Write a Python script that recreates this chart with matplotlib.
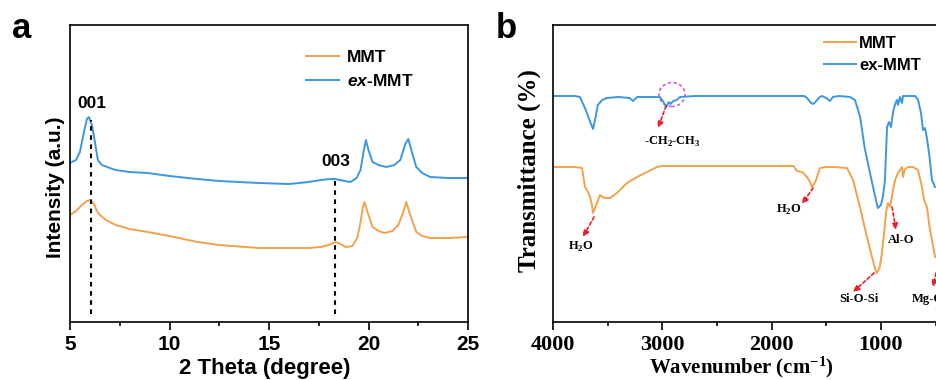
import matplotlib
matplotlib.use('Agg')
import matplotlib.pyplot as plt
from matplotlib.patches import Ellipse
from matplotlib.ticker import MultipleLocator

plt.rcParams['mathtext.fontset'] = 'custom'
plt.rcParams['mathtext.it'] = 'Liberation Sans:italic:bold'
plt.rcParams['mathtext.rm'] = 'Liberation Serif:bold'
plt.rcParams['mathtext.bf'] = 'Liberation Serif:bold'

ORANGE = '#F2A24C'
BLUE = '#3C97E2'
SANS = 'Liberation Sans'
SERIF = 'Liberation Serif'

# --- XRD patterns (2 theta in degree, intensity in a.u.) ---
xrd_theta_ex = [5.0, 5.3, 5.5, 5.7, 5.85, 5.95, 6.1, 6.25, 6.4, 6.6, 7.0, 7.3, 8.0, 8.9,
                10.0, 11.4, 12.5, 14.5, 16.0, 17.0, 17.6, 18.1, 18.3, 18.8, 19.1, 19.4,
                19.6, 19.75, 19.87, 20.0, 20.2, 20.5, 20.9, 21.3, 21.6, 21.85, 22.0,
                22.15, 22.4, 22.7, 23.1, 24.0, 25.0]
xrd_int_ex = [159, 162, 170, 190, 203, 205, 197, 180, 162, 157, 154, 152, 150, 149,
              146, 143, 141, 139, 138, 140, 142, 143, 143, 141, 140, 144,
              152, 170, 182, 172, 160, 157, 155, 157, 162, 178, 183,
              172, 155, 149, 145, 144, 144]

xrd_theta_mmt = [5.0, 5.3, 5.6, 5.85, 6.0, 6.2, 6.4, 6.8, 7.3, 8.0, 8.9, 10.0, 11.4,
                 12.5, 14.5, 16.0, 17.0, 17.6, 18.0, 18.35, 18.6, 18.85, 19.2, 19.45,
                 19.6, 19.72, 19.8, 19.92, 20.2, 20.5, 20.8, 21.2, 21.5, 21.75, 21.9,
                 22.05, 22.4, 22.7, 23.1, 24.0, 25.0]
xrd_int_mmt = [107, 111, 117, 121, 122, 118, 109, 102, 97, 93, 90, 86, 80,
               77, 74, 74, 74, 75, 77, 80, 78, 75, 76, 85,
               100, 115, 120, 112, 95, 91, 89, 91, 97, 110, 120,
               110, 90, 86, 84, 84, 85]

# reflections marked with dashed lines
refl_pos = [6.05, 18.32]
refl_top = [202, 142]
refl_names = ['001', '003']
refl_label_y = [218, 160]

# --- FTIR spectra (wavenumber in cm-1, transmittance in a.u.) ---
ir_wn_ex = [4000, 3800, 3753, 3700, 3660, 3634, 3610, 3590, 3550, 3506, 3400, 3300,
            3268, 3230, 3100, 3021, 2990, 2965, 2940, 2925, 2900, 2870, 2838, 2700,
            1700, 1676, 1640, 1620, 1600, 1560, 1540, 1500, 1466, 1440, 1380, 1283,
            1237, 1190, 1150, 1100, 1060, 1028, 1000, 982, 963, 944, 926, 908, 889,
            870, 853, 844, 826, 807, 798, 750, 688, 660, 633, 615, 597, 579, 555,
            533, 505]
ir_tr_ex = [226, 226, 225, 212, 200, 193, 205, 217, 222, 224, 225, 224,
            221, 225, 225, 225, 220, 215, 220, 218, 221, 222, 225, 226,
            226, 224, 219, 218, 220, 225, 226, 224, 221, 225, 226, 225,
            222, 205, 175, 149, 129, 114, 117, 125, 142, 195, 200, 195, 210,
            218, 222, 217, 225, 219, 226, 226, 226, 222, 209, 192, 194, 184, 165,
            142, 135]

ir_wn_mmt = [4000, 3800, 3735, 3707, 3680, 3662, 3645, 3634, 3615, 3598, 3570, 3545,
             3524, 3479, 3415, 3323, 3231, 3140, 3048, 3000, 1800, 1768, 1720, 1676,
             1650, 1630, 1600, 1570, 1557, 1500, 1438, 1310, 1255, 1192, 1128, 1082,
             1050, 1036, 1010, 991, 970, 954, 936, 917, 900, 889, 870, 844, 807, 798,
             780, 750, 707, 661, 624, 606, 579, 555, 533, 505]
ir_tr_mmt = [155, 155, 154, 135, 130, 125, 118, 109, 114, 119, 127, 125,
             124, 124, 129, 139, 145, 150, 155, 156, 156, 151, 150, 145,
             140, 135, 140, 150, 154, 155, 155, 154, 142, 115, 85, 65,
             52, 49, 55, 69, 90, 109, 119, 115, 125, 132, 142, 149, 155, 145,
             153, 155, 155, 152, 135, 122, 115, 95, 82, 65]

# band assignments: label, text position, arrow tail, arrow head
band_labels = [r'-CH$_2$-CH$_3$', r'H$_2$O', r'H$_2$O', 'Si-O-Si', 'Al-O', 'Mg-O']
band_text_xy = [(2911, 180), (3744, 75), (1841, 112), (1200, 23), (816, 82), (569, 23)]
band_tail_xy = [(2966, 216), (3625, 105), (1621, 134), (1063, 49), (898, 115), (496, 49)]
band_head_xy = [(3039, 194), (3726, 85), (1722, 118), (1255, 30), (862, 92), (523, 35)]

fig = plt.figure(figsize=(9.36, 3.8), dpi=100)

# ---------------- panel a: XRD ----------------
ax1 = fig.add_axes([70 / 936, 58 / 380, 398 / 936, 297 / 380])
ax1.plot(xrd_theta_mmt, xrd_int_mmt, color=ORANGE, lw=1.4, label='MMT')
ax1.plot(xrd_theta_ex, xrd_int_ex, color=BLUE, lw=1.4, label=r'$ex$-MMT')
for xp, top, name, ly in zip(refl_pos, refl_top, refl_names, refl_label_y):
    ax1.plot([xp, xp], [8, top], color='black', lw=1.5, ls=(0, (2.2, 2.2)))
    ax1.text(xp + 0.05, ly, name, ha='center', va='center', fontsize=12.5,
             fontweight='bold', family=SANS)
ax1.set_xlim(5, 25)
ax1.set_ylim(0, 297)
ax1.set_yticks([])
ax1.xaxis.set_major_locator(MultipleLocator(5))
ax1.xaxis.set_minor_locator(MultipleLocator(2.5))
ax1.tick_params(axis='x', which='major', direction='out', length=6, width=1.2,
                labelsize=15)
ax1.tick_params(axis='x', which='minor', direction='out', length=3, width=1.2)
for lbl in ax1.get_xticklabels():
    lbl.set_fontweight('bold')
    lbl.set_family(SANS)
ax1.set_xlabel('2 Theta (degree)', fontsize=16, fontweight='bold', family=SANS)
ax1.set_ylabel('Intensity (a.u.)', fontsize=15, fontweight='bold', family=SANS)
ax1.xaxis.set_label_coords(0.49, -0.122)
ax1.yaxis.set_label_coords(-0.013, 0.455)
leg1 = ax1.legend(frameon=False, loc='upper left', bbox_to_anchor=(0.593, 0.915),
                  borderpad=0, borderaxespad=0, handlelength=1.9, handletextpad=0.45,
                  labelspacing=0.45,
                  prop={'family': SANS, 'weight': 'bold', 'size': 12.5})
for s in ax1.spines.values():
    s.set_linewidth(1.2)
fig.text(12 / 936, 1 - 38 / 380, 'a', fontsize=25, fontweight='bold', family=SANS,
         ha='left', va='baseline')

# ---------------- panel b: FTIR ----------------
ax2 = fig.add_axes([553 / 936, 58 / 380, 393.5 / 936, 297 / 380])
ax2.plot(ir_wn_mmt, ir_tr_mmt, color=ORANGE, lw=1.4, label='MMT')
ax2.plot(ir_wn_ex, ir_tr_ex, color=BLUE, lw=1.4, label='ex-MMT')
ax2.add_patch(Ellipse((2911, 227.5), 238, 24, fill=False, ec='#D45CD6', lw=1.2,
                      ls=(0, (2, 1.5))))
for name, txy, tail, head in zip(band_labels, band_text_xy, band_tail_xy, band_head_xy):
    ax2.text(txy[0], txy[1], name, ha='center', va='center', fontsize=9,
             fontweight='bold', family=SERIF)
    ax2.annotate('', xy=head, xytext=tail,
                 arrowprops=dict(arrowstyle='-|>', color='#E8202A', lw=1.2,
                                 ls=(0, (2, 1.5)), mutation_scale=9,
                                 shrinkA=0, shrinkB=0))
ax2.set_xlim(4000, 400)
ax2.set_ylim(0, 297)
ax2.set_yticks([])
ax2.xaxis.set_major_locator(MultipleLocator(1000))
ax2.xaxis.set_minor_locator(MultipleLocator(500))
ax2.tick_params(axis='x', which='major', direction='out', length=6, width=1.2,
                labelsize=16)
ax2.tick_params(axis='x', which='minor', direction='out', length=3, width=1.2)
for lbl in ax2.get_xticklabels():
    lbl.set_fontweight('bold')
    lbl.set_family(SERIF)
ax2.set_xlabel(r'Wavenumber (cm$^{-1}$)', fontsize=15, fontweight='bold', family=SERIF)
ax2.set_ylabel('Transmittance (%)', fontsize=18, fontweight='bold', family=SERIF)
ax2.xaxis.set_label_coords(0.48, -0.108)
ax2.yaxis.set_label_coords(-0.03, 0.51)
leg2 = ax2.legend(frameon=False, loc='upper left', bbox_to_anchor=(0.689, 0.962),
                  borderpad=0, borderaxespad=0, handlelength=1.9, handletextpad=0.2,
                  labelspacing=0.4,
                  prop={'family': SANS, 'weight': 'bold', 'size': 12})
for s in ax2.spines.values():
    s.set_linewidth(1.2)
fig.text(496 / 936, 1 - 38 / 380, 'b', fontsize=25, fontweight='bold', family=SANS,
         ha='left', va='baseline')

fig.savefig('out.png', dpi=100)
